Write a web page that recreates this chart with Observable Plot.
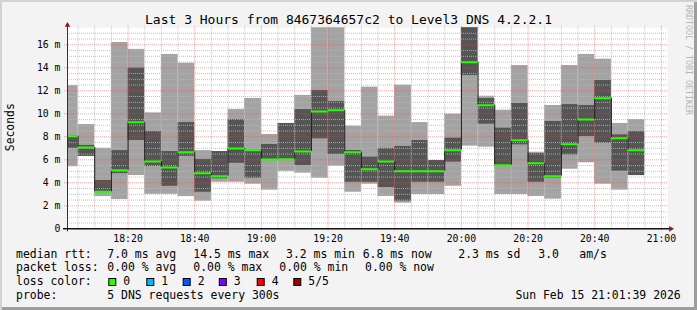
<!DOCTYPE html>
<html>
<head>
<meta charset="utf-8">
<script src="https://cdn.jsdelivr.net/npm/d3@7"></script>
<script src="https://cdn.jsdelivr.net/npm/@observablehq/plot@0.6"></script>
<style>
html, body { margin: 0; padding: 0; background: #f3f3f3; }
#chart { position: relative; width: 697px; height: 310px; background: #f3f3f3;
  box-shadow: inset 2px 2px 0 #d2d2d2, inset -3px -3px 0 #9d9d9d; overflow: hidden; }
#chart svg { position: absolute; left: 0; top: 0; }
</style>
</head>
<body>
<div id="chart"></div>
<script>
// ---- data ----
const windowStart = "18:01:50";
const windowEnd = "21:01:50";
const binStarts = ["18:00","18:05","18:10","18:15","18:20","18:25","18:30","18:35","18:40","18:45",
  "18:50","18:55","19:00","19:05","19:10","19:15","19:20","19:25","19:30","19:35",
  "19:40","19:45","19:50","19:55","20:00","20:05","20:10","20:15","20:20","20:25",
  "20:30","20:35","20:40","20:45","20:50"];
// ms; sorted pings: min, 2nd, median, 4th, max
const pingMin = [5.4,6.3,2.8,2.55,4.63,3.0,3.0,2.8,2.4,4.05,
  4.05,3.88,3.36,5.0,4.84,4.4,5.45,3.18,3.88,2.81,
  2.23,2.98,2.98,3.7,7.19,7.1,2.98,2.98,2.81,2.58,
  5.18,5.74,3.88,3.36,4.63];
const pingLow = [7.0,6.3,3.22,4.8,7.68,5.42,3.7,6.3,3.18,4.35,
  5.7,4.4,6.0,5.95,5.5,7.83,6.46,4.05,4.05,3.59,
  2.4,4.05,4.05,5.8,13.33,9.1,5.5,7.3,4.05,4.4,
  6.43,8.03,7.44,5.01,4.63];
const pingMedian = [8.05,7.07,3.22,5.1,9.27,5.85,5.33,6.66,4.84,4.58,
  6.98,6.84,6.03,6.05,6.72,10.2,10.31,6.66,5.18,5.85,
  5.01,5.01,5.01,6.84,14.49,10.75,5.53,7.71,5.71,4.58,
  7.36,9.5,11.36,7.88,6.84];
const pingHigh = [8.05,7.25,4.2,6.8,13.97,8.46,6.72,9.24,6.03,6.72,
  9.5,6.84,7.33,9.16,10.37,12.03,11.07,6.81,6.23,6.98,
  7.16,7.68,5.94,7.88,18.5,11.33,8.75,10.9,6.55,9.33,
  10.8,10.72,12.9,8.17,8.46];
const pingMax = [12.45,9.07,7.0,16.2,15.6,10.08,15.16,14.4,6.8,6.72,
  10.37,11.33,8.2,9.16,11.6,19.0,19.0,8.92,12.32,9.8,
  12.49,9.24,5.94,9.97,19.0,11.53,10.31,14.2,6.66,10.72,
  14.2,15.16,14.75,9.16,9.5];
const yTop = 17.48;
const yTicks = [0, 2, 4, 6, 8, 10, 12, 14, 16];
const xTickLabels = ["18:20","18:40","19:00","19:20","19:40","20:00","20:20","20:40","21:00"];

const titleText = "Last 3 Hours from 8467364657c2 to Level3 DNS 4.2.2.1";
const yAxisTitle = "Seconds";
const watermark = "RRDTOOL / TOBI OETIKER";
const rttLabel = "median rtt:";
const rttStats = ["7.0 ms avg", "14.5 ms max", "3.2 ms min", "6.8 ms now", "2.3 ms sd", "3.0", "am/s"];
const lossLabel = "packet loss:";
const lossStats = ["0.00 % avg", "0.00 % max", "0.00 % min", "0.00 % now"];
const colorLabel = "loss color:";
const lossColorNames = ["0", "1", "2", "3", "4", "5/5"];
const lossColors = ["#26ff00", "#00b8ff", "#0059ff", "#7e00ff", "#ff0000", "#a10000"];
const probeLabel = "probe:";
const probeText = "5 DNS requests every 300s";
const stampText = "Sun Feb 15 21:01:39 2026";

// ---- derived ----
const parse = s => { const [h, m, sec = 0] = s.split(":").map(Number); return new Date(Date.UTC(2026, 1, 15, h, m, sec)); };
const STEP = 5 * 60 * 1000;
const bins = binStarts.map((s, i) => {
  const t0 = parse(s);
  return { t0, t1: new Date(+t0 + STEP), min: pingMin[i], lo: pingLow[i], med: pingMedian[i], hi: pingHigh[i], max: pingMax[i] };
});
const links = bins.slice(1).map((b, i) => ({ x: b.t0, y1: bins[i].med, y2: b.med }));
const x0 = parse(windowStart), x1 = parse(windowEnd);
const yMinor = d3.range(0.5, yTop, 0.5).filter(v => v % 2 !== 0);
const yMajor = yTicks.filter(v => v > 0);
const xMajor = xTickLabels.map(parse);
const xMinor = d3.utcMinute.every(5).range(x0, x1).filter(d => d.getUTCMinutes() % 20 !== 0);

const FONT = "DejaVu Sans Mono";
const chart = Plot.plot({
  width: 697, height: 310,
  marginLeft: 67, marginRight: 30, marginTop: 27.3, marginBottom: 81.7,
  x: { type: "utc", domain: [x0, x1], axis: null },
  y: { domain: [0, yTop], axis: null },
  style: { fontFamily: FONT, fontSize: "9.8px", background: "transparent", color: "#000", overflow: "visible" },
  marks: [
    Plot.frame({ fill: "#ffffff" }),
    Plot.rect(bins, { x1: "t0", x2: "t1", y1: "min", y2: "max", fill: "#a3a3a3", clip: true }),
    Plot.rect(bins, { x1: "t0", x2: "t1", y1: "lo", y2: "hi", fill: "#555555", clip: true }),
    Plot.ruleY(yMinor, { stroke: "#b8b8b8", strokeOpacity: 0.85, strokeDasharray: "1,1" }),
    Plot.ruleX(xMinor, { stroke: "#b8b8b8", strokeOpacity: 0.85, strokeDasharray: "1,1", insetTop: -1.5 }),
    Plot.ruleY(yMajor, { stroke: "#e05050", strokeOpacity: 0.5, strokeDasharray: "1,1", insetLeft: -3 }),
    Plot.ruleX(xMajor, { stroke: "#e05050", strokeOpacity: 0.5, strokeDasharray: "1,1", insetTop: -1.5, insetBottom: -3 }),
    Plot.ruleX(links, { x: "x", y1: "y1", y2: "y2", stroke: "#1a1a1a", clip: true }),
    Plot.ruleY(bins, { y: "med", x1: "t0", x2: "t1", stroke: lossColors[0], strokeWidth: 2, clip: true }),
    Plot.ruleX([x0], { stroke: "#333", insetTop: -2, insetBottom: -3 }),
    Plot.ruleY([0], { stroke: "#111", strokeWidth: 1.4, insetLeft: -4, insetRight: -3 }),
    Plot.dot([0], { frameAnchor: "top-left", symbol: "triangle", r: 2.1, fill: "#8e1a1a", stroke: null, dy: -2.6 }),
    Plot.dot([0], { frameAnchor: "bottom-right", symbol: "triangle", r: 2.1, rotate: 90, fill: "#8e1a1a", stroke: null, dx: 3.3 }),
    Plot.axisX({ ticks: xMajor, tickSize: 0, tickPadding: 6, tickFormat: d3.utcFormat("%H:%M"), label: null }),
    Plot.axisY({ ticks: yTicks, tickSize: 0, tickPadding: 7, tickFormat: d => d === 0 ? "0" : `${d} m`, label: null })
  ]
});
const host = document.getElementById("chart");
host.appendChild(chart);

// ---- title, legend and side texts ----
const svg = d3.create("svg").attr("width", 697).attr("height", 310)
  .style("font-family", FONT).style("pointer-events", "none");
svg.append("text").attr("x", 348.5).attr("y", 24).attr("text-anchor", "middle")
  .style("font-size", "13px").attr("fill", "#000").text(titleText);
svg.append("text").attr("transform", "translate(14,127.2) rotate(-90)").attr("text-anchor", "middle")
  .style("font-size", "11.4px").attr("fill", "#000").text(yAxisTitle);
svg.append("text").attr("transform", "translate(685.6,5) rotate(90)").attr("text-anchor", "start")
  .style("font-size", "8.3px").attr("fill", "#b6b6b6").text(watermark);

const LEG = "11.45px";
const rows = [257.6, 271.3, 285.0, 298.8];
const put = (x, y, s, anchor = "start") => svg.append("text").attr("x", x).attr("y", y)
  .attr("text-anchor", anchor).style("font-size", LEG).attr("fill", "#000").text(s);
put(16, rows[0], rttLabel);
[107.3, 193.3, 286, 362.7, 458.3, 538.3, 579.3].forEach((x, i) => put(x, rows[0], rttStats[i]));
put(16, rows[1], lossLabel);
[107.3, 193.3, 279.3, 365].forEach((x, i) => put(x, rows[1], lossStats[i]));
put(16, rows[2], colorLabel);
[108.3, 146.3, 182.7, 218.8, 256.7, 293.3].forEach((x, i) => {
  svg.append("rect").attr("x", x + 0.5).attr("y", 278.5).attr("width", 7).attr("height", 7)
    .attr("fill", lossColors[i]).attr("stroke", "#000").attr("stroke-width", 1);
  put(x + 15, rows[2], lossColorNames[i]);
});
put(16, rows[3], probeLabel);
put(107.3, rows[3], probeText);
put(680.7, rows[3], stampText, "end");
host.appendChild(svg.node());
</script>
</body>
</html>
